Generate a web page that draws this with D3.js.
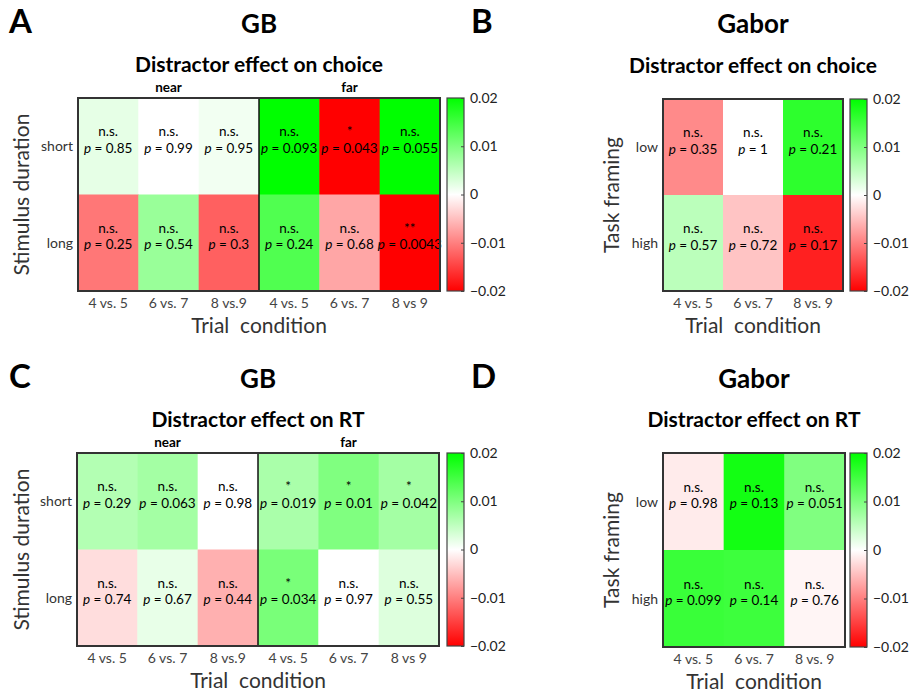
<!DOCTYPE html>
<html>
<head>
<meta charset="utf-8">
<script src="https://cdn.jsdelivr.net/npm/d3@7"></script>
<style>
  body { margin: 0; background: #fff; }
  svg { font-family: Lato, "Open Sans", sans-serif; }
</style>
</head>
<body>
<div id="mydiv"></div>
<script>
const width = 909,
  height = 695;

// categories
const rowsGB = ["short", "long"];
const rowsGabor = ["low", "high"];
const colsGB = ["4 vs. 5", "6 vs. 7", "8 vs.9", "4 vs. 5", "6 vs. 7", "8 vs 9"];
const colsGabor = ["4 vs. 5", "6 vs. 7", "8 vs. 9"];
const cbTicks = [0.02, 0.01, 0, -0.01, -0.02];

// A: GB, effect on choice (rows short/long)
const valA = [
  [0.002, 0.0, 0.001, 0.021, -0.021, 0.021],
  [-0.0107, 0.008, -0.0125, 0.0137, -0.007, -0.021]
];
const pA = [
  ["0.85", "0.99", "0.95", "0.093", "0.043", "0.055"],
  ["0.25", "0.54", "0.3", "0.24", "0.68", "0.0043"]
];
const sigA = [
  ["n.s.", "n.s.", "n.s.", "n.s.", "*", "n.s."],
  ["n.s.", "n.s.", "n.s.", "n.s.", "n.s.", "**"]
];

// B: Gabor, effect on choice (rows low/high)
const valB = [
  [-0.0092, 0.0, 0.0165],
  [0.0053, -0.0046, -0.0175]
];
const pB = [
  ["0.35", "1", "0.21"],
  ["0.57", "0.72", "0.17"]
];
const sigB = [
  ["n.s.", "n.s.", "n.s."],
  ["n.s.", "n.s.", "n.s."]
];

// C: GB, effect on RT
const valC = [
  [0.006, 0.0071, 0.0, 0.0067, 0.01, 0.0071],
  [-0.0027, 0.0018, -0.0062, 0.0105, 0.0, 0.0027]
];
const pC = [
  ["0.29", "0.063", "0.98", "0.019", "0.01", "0.042"],
  ["0.74", "0.67", "0.44", "0.034", "0.97", "0.55"]
];
const sigC = [
  ["n.s.", "n.s.", "n.s.", "*", "*", "*"],
  ["n.s.", "n.s.", "n.s.", "*", "n.s.", "n.s."]
];

// D: Gabor, effect on RT
const valD = [
  [-0.0016, 0.0185, 0.01],
  [0.0155, 0.0152, -0.0008]
];
const pD = [
  ["0.98", "0.13", "0.051"],
  ["0.099", "0.14", "0.76"]
];
const sigD = [
  ["n.s.", "n.s.", "n.s."],
  ["n.s.", "n.s.", "n.s."]
];

const color = d3
  .scaleLinear()
  .domain([-0.02, 0, 0.02])
  .range(["#ff0000", "#ffffff", "#00ff00"])
  .clamp(true);

const svg = d3
  .select("#mydiv")
  .append("svg")
  .attr("width", width)
  .attr("height", height);

// gradient for colorbars
const grad = svg
  .append("defs")
  .append("linearGradient")
  .attr("id", "cbgrad")
  .attr("x1", 0)
  .attr("y1", 1)
  .attr("x2", 0)
  .attr("y2", 0);
d3.range(0, 1.0001, 0.1).forEach((t) => {
  grad
    .append("stop")
    .attr("offset", t)
    .attr("stop-color", color(-0.02 + t * 0.04));
});

function drawPanel(o) {
  const g = svg.append("g");
  const x = d3.scaleBand().domain(d3.range(o.cols.length)).range([o.x0, o.x1]);
  const y = d3.scaleBand().domain(d3.range(o.rows.length)).range([o.y0, o.y1]);
  const midX = (o.x0 + o.x1) / 2;

  // letter + titles
  g.append("text")
    .attr("x", o.letterX)
    .attr("y", o.titleY)
    .attr("font-size", 33)
    .attr("font-weight", "bold")
    .text(o.letter);
  g.append("text")
    .attr("x", midX)
    .attr("y", o.titleY)
    .attr("text-anchor", "middle")
    .attr("font-size", 26)
    .attr("font-weight", "bold")
    .text(o.title);
  g.append("text")
    .attr("x", midX)
    .attr("y", o.y0 - 26)
    .attr("text-anchor", "middle")
    .attr("font-size", 21)
    .attr("font-weight", "bold")
    .text(o.subtitle);

  // near / far
  if (o.cols.length == 6) {
    g.append("text")
      .attr("x", (x(0) + x(2) + x.bandwidth()) / 2)
      .attr("y", o.y0 - 6)
      .attr("text-anchor", "middle")
      .attr("font-size", 13.5)
      .attr("font-weight", "bold")
      .text("near");
    g.append("text")
      .attr("x", (x(3) + x(5) + x.bandwidth()) / 2)
      .attr("y", o.y0 - 6)
      .attr("text-anchor", "middle")
      .attr("font-size", 13.5)
      .attr("font-weight", "bold")
      .text("far");
  }

  // cells
  o.values.forEach((row, i) => {
    row.forEach((v, j) => {
      g.append("rect")
        .attr("x", x(j))
        .attr("y", y(i))
        .attr("width", x.bandwidth() + 0.5)
        .attr("height", y.bandwidth() + 0.5)
        .attr("fill", color(v));
      const cx = x(j) + x.bandwidth() / 2,
        cy = y(i) + y.bandwidth() / 2;
      // significance, then p value
      g.append("text")
        .attr("x", cx)
        .attr("y", cy - 10)
        .attr("text-anchor", "middle")
        .attr("font-size", 13.5)
        .text(o.sig[i][j]);
      const t = g
        .append("text")
        .attr("x", cx)
        .attr("y", cy + 6.5)
        .attr("text-anchor", "middle")
        .attr("font-size", 13.5);
      t.append("tspan").attr("font-style", "italic").text("p");
      t.append("tspan").text(" = " + o.p[i][j]);
    });
  });

  // divider between near and far
  if (o.cols.length == 6) {
    g.append("line")
      .attr("x1", x(3))
      .attr("x2", x(3))
      .attr("y1", o.y0)
      .attr("y2", o.y1)
      .attr("stroke", "#111")
      .attr("stroke-width", 1.5);
  }

  // frame
  g.append("rect")
    .attr("x", o.x0)
    .attr("y", o.y0)
    .attr("width", o.x1 - o.x0)
    .attr("height", o.y1 - o.y0)
    .attr("fill", "none")
    .attr("stroke", "#333")
    .attr("stroke-width", 2);

  // row labels
  o.rows.forEach((r, i) => {
    g.append("text")
      .attr("x", o.x0 - 5)
      .attr("y", y(i) + y.bandwidth() / 2 + 5)
      .attr("text-anchor", "end")
      .attr("font-size", 14)
      .attr("fill", "#333")
      .text(r);
  });

  // column labels
  o.cols.forEach((c, j) => {
    g.append("text")
      .attr("x", x(j) + x.bandwidth() / 2)
      .attr("y", o.y1 + 17)
      .attr("text-anchor", "middle")
      .attr("font-size", 14)
      .attr("fill", "#444")
      .text(c);
  });

  // axis titles
  g.append("text")
    .attr("x", midX)
    .attr("y", o.y1 + 42)
    .attr("text-anchor", "middle")
    .attr("font-size", 21)
    .attr("fill", "#333")
    .style("white-space", "pre")
    .text("Trial  condition");
  g.append("text")
    .attr("transform", `translate(${o.yLabelX}, ${(o.y0 + o.y1) / 2}) rotate(-90)`)
    .attr("text-anchor", "middle")
    .attr("font-size", 21)
    .attr("fill", "#333")
    .text(o.yLabel);

  // colorbar
  const cbScale = d3.scaleLinear().domain([-0.02, 0.02]).range([o.y1, o.y0]);
  g.append("rect")
    .attr("x", o.cbX)
    .attr("y", o.y0)
    .attr("width", 17)
    .attr("height", o.y1 - o.y0)
    .attr("fill", "url(#cbgrad)")
    .attr("stroke", "#444")
    .attr("stroke-width", 1.2);
  const ax = g
    .append("g")
    .attr("transform", `translate(${o.cbX + 17}, 0)`)
    .call(
      d3
        .axisRight(cbScale)
        .tickValues(cbTicks)
        .tickSize(-3)
        .tickPadding(6)
        .tickFormat((d) => (d == 0 ? "0" : d3.format(".2f")(d)))
    );
  ax.select(".domain").remove();
  ax.selectAll("line").attr("stroke", "#444");
  ax.selectAll("text")
    .attr("font-size", 14)
    .attr("fill", "#222")
    .style("font-family", "Lato, 'Open Sans', sans-serif");
}

drawPanel({
  letter: "A", letterX: 9, titleY: 33, title: "GB",
  subtitle: "Distractor effect on choice",
  x0: 78, x1: 440, y0: 98, y1: 291, cbX: 447, yLabelX: 29,
  rows: rowsGB, cols: colsGB, values: valA, p: pA, sig: sigA,
  yLabel: "Stimulus duration"
});
drawPanel({
  letter: "B", letterX: 471, titleY: 33, title: "Gabor",
  subtitle: "Distractor effect on choice",
  x0: 663, x1: 843, y0: 99, y1: 291, cbX: 850, yLabelX: 619,
  rows: rowsGabor, cols: colsGabor, values: valB, p: pB, sig: sigB,
  yLabel: "Task framing"
});
drawPanel({
  letter: "C", letterX: 9, titleY: 388, title: "GB",
  subtitle: "Distractor effect on RT",
  x0: 77, x1: 439, y0: 453, y1: 646, cbX: 447, yLabelX: 29,
  rows: rowsGB, cols: colsGB, values: valC, p: pC, sig: sigC,
  yLabel: "Stimulus duration"
});
drawPanel({
  letter: "D", letterX: 471, titleY: 388, title: "Gabor",
  subtitle: "Distractor effect on RT",
  x0: 663, x1: 845, y0: 453, y1: 647, cbX: 850, yLabelX: 619,
  rows: rowsGabor, cols: colsGabor, values: valD, p: pD, sig: sigD,
  yLabel: "Task framing"
});
</script>
</body>
</html>
